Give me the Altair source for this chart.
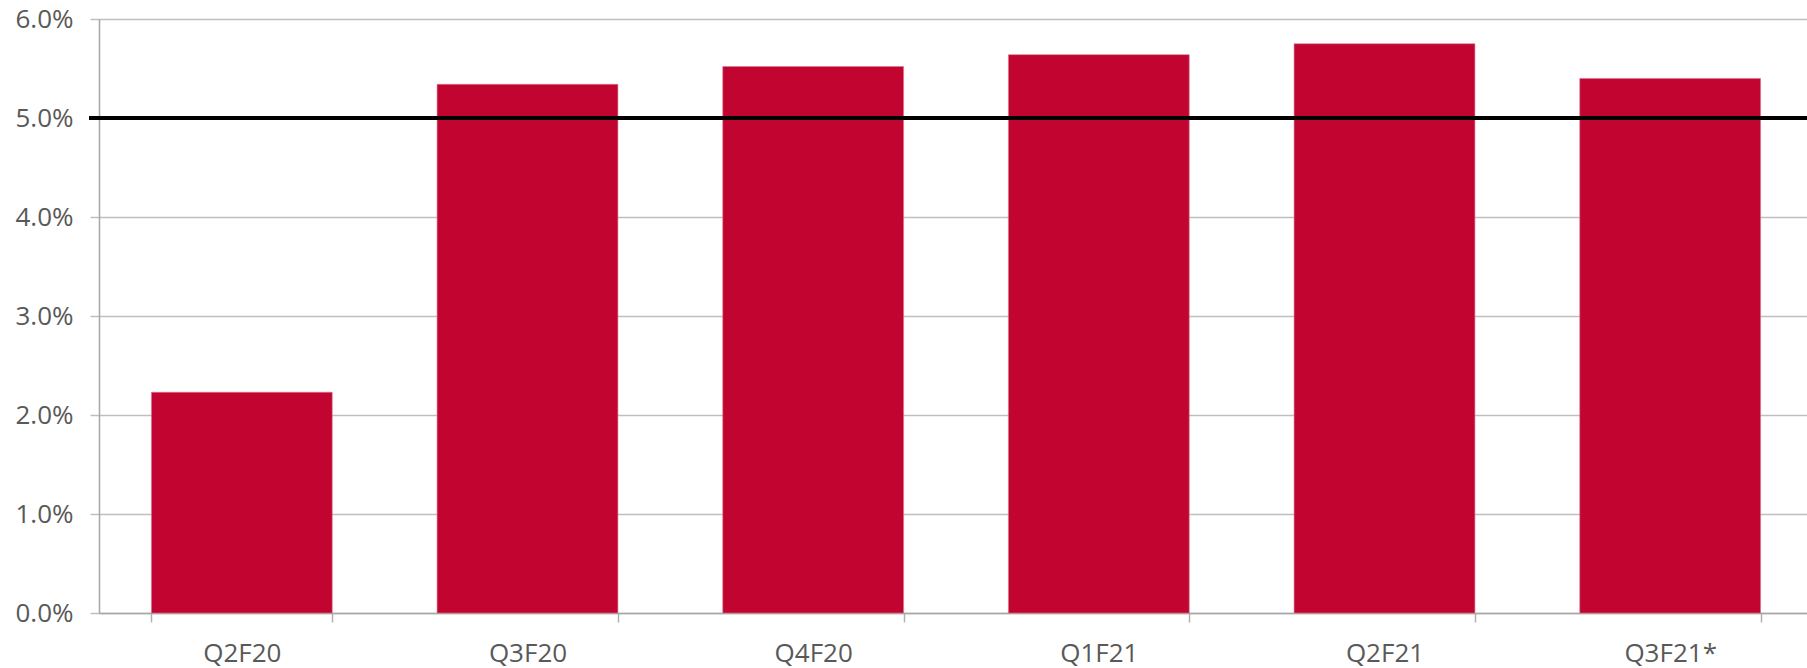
import altair as alt
import pandas as pd

quarters = ["Q2F20", "Q3F20", "Q4F20", "Q1F21", "Q2F21", "Q3F21*"]
values = [2.23, 5.34, 5.52, 5.64, 5.75, 5.40]
y_ticks = [0, 1, 2, 3, 4, 5, 6]
target = [5.0]

df = pd.DataFrame({"quarter": quarters, "value": values})
ref = pd.DataFrame({"value": target})

W = 1708
H = 594
FONT = "Open Sans"

x_enc = alt.X(
    "quarter:N",
    sort=quarters,
    title=None,
    scale=alt.Scale(range=[0, 1714], paddingInner=0.367, paddingOuter=0.1835),
    axis=alt.Axis(
        labelAngle=0,
        labelFont=FONT,
        labelFontSize=26,
        labelColor="#595959",
        labelPadding=18,
        tickBand="extent",
        tickSize=9,
        tickColor="#B0B0B0",
        tickWidth=1.5,
        domainColor="#A6A6A6",
        domainWidth=1.5,
        grid=False,
    ),
)

y_scale = alt.Scale(domain=[0, 6], nice=False)

bars = alt.Chart(df).mark_bar(color="#C10430", stroke="#D97A8E", strokeWidth=0.6).encode(
    x=x_enc,
    y=alt.Y(
        "value:Q",
        scale=y_scale,
        title=None,
        axis=alt.Axis(
            values=y_ticks,
            labelExpr="format(datum.value, '.1f') + '%'",
            labelFont=FONT,
            labelFontSize=26,
            labelColor="#595959",
            labelPadding=17,
            tickSize=9,
            tickColor="#BFBFBF",
            tickWidth=1.5,
            domainColor="#A6A6A6",
            domainWidth=1.5,
            grid=True,
            gridColor="#BFBFBF",
            gridWidth=1.5,
        ),
    ),
)

rule = alt.Chart(ref).mark_rule(color="#000000", strokeWidth=4).encode(
    y=alt.Y("value:Q", scale=y_scale),
    x=alt.value(-10),
    x2=alt.value(W),
)

chart = (
    alt.layer(bars, rule)
    .properties(
        width=W,
        height=H,
        autosize=alt.AutoSizeParams(type="none"),
        padding={"left": 99, "top": 19, "right": 0, "bottom": 55},
    )
    .configure_view(stroke=None)
    .configure(background="white")
)

chart.save("out.html", embed_options={"renderer": "svg", "actions": False})
